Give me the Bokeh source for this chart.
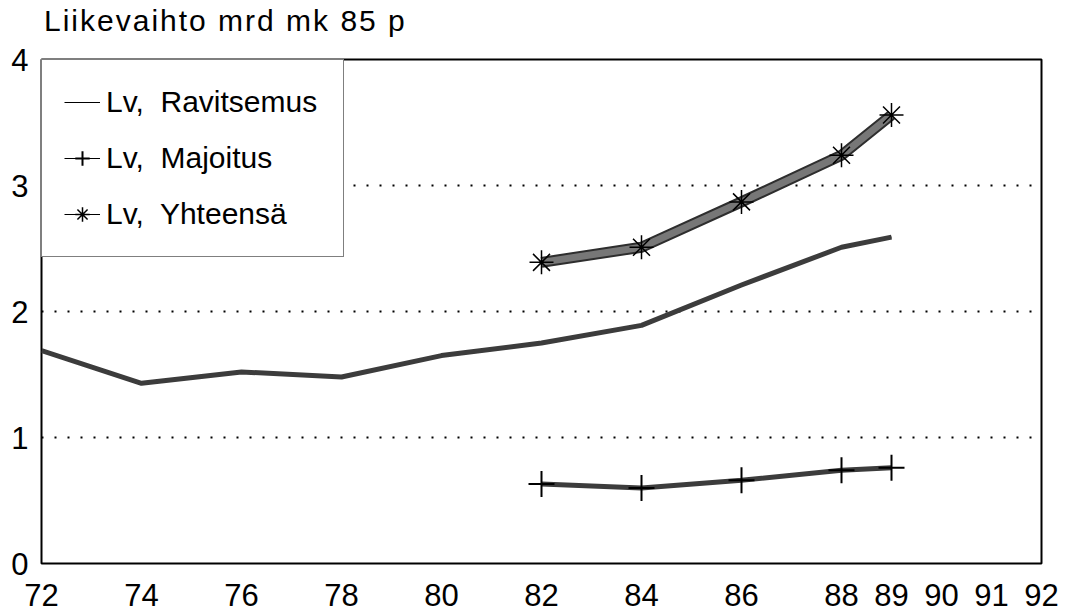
from bokeh.plotting import figure
from bokeh.models import Range1d, FixedTicker, Legend, LegendItem, Div
from bokeh.layouts import column
from bokeh.embed import file_html
from bokeh.resources import INLINE

# ---- data ----
rav_years = [72, 74, 76, 78, 80, 82, 84, 86, 88, 89]
ravitsemus = [1.69, 1.43, 1.52, 1.48, 1.65, 1.75, 1.89, 2.21, 2.51, 2.59]

maj_years = [82, 84, 86, 88, 89]
majoitus = [0.63, 0.60, 0.66, 0.74, 0.76]

yht_years = [82, 84, 86, 88, 89]
yhteensa = [2.39, 2.51, 2.87, 3.24, 3.56]

x_ticks = [72, 74, 76, 78, 80, 82, 84, 86, 88, 89, 90, 91, 92]
y_ticks = [0, 1, 2, 3, 4]
grid_levels = [1, 2, 3]

title_text = "Liikevaihto mrd mk 85 p"
labels = ["Lv,  Ravitsemus", "Lv,  Majoitus", "Lv,  Yhteensä"]

FONT = "Liberation Sans"

# title block above the plot
title_div = Div(
    text=('<div style="font-family: \'Liberation Sans\', Arial, sans-serif; '
          'font-size: 30px; line-height: 38px; padding-top: 2px; padding-left: 44px; '
          'letter-spacing: 2px; color: black; '
          'white-space: nowrap;">' + title_text + '</div>'),
    width=1066, height=40, margin=(0, 0, 0, 0))

p = figure(width=1066, height=572, output_backend="svg", toolbar_location=None,
           x_range=Range1d(72, 92), y_range=Range1d(0, 4),
           min_border_left=41, min_border_right=25, min_border_top=19,
           min_border_bottom=49, margin=(0, 0, 0, 0))

p.background_fill_color = "white"
p.border_fill_color = "white"
p.outline_line_color = "black"
p.outline_line_width = 2

# axes
for ax in (p.xaxis[0], p.yaxis[0]):
    ax.axis_line_color = None
    ax.major_tick_line_color = None
    ax.minor_tick_line_color = None
    ax.major_tick_out = 0
    ax.major_tick_in = 0
    ax.minor_tick_out = 0
    ax.minor_tick_in = 0
    ax.major_label_text_font = FONT
    ax.major_label_text_font_size = "31px"
    ax.major_label_text_color = "black"

p.xaxis[0].ticker = FixedTicker(ticks=x_ticks)
p.xaxis[0].major_label_standoff = 20
p.xaxis[0].major_label_text_line_height = 0.7
p.yaxis[0].ticker = FixedTicker(ticks=y_ticks)
p.yaxis[0].major_label_standoff = 13

# grid
p.xgrid.grid_line_color = None
p.ygrid.ticker = FixedTicker(ticks=grid_levels)
p.ygrid.grid_line_color = "black"
p.ygrid.grid_line_width = 2
p.ygrid.grid_line_dash = "2 11"

# thin legend lines (hidden under the thick lines)
leg_rav = p.line(rav_years, ravitsemus, line_color="black", line_width=1)
leg_maj = p.line(maj_years, majoitus, line_color="black", line_width=1)
leg_yht = p.line(yht_years, yhteensa, line_color="black", line_width=1)

# data lines
p.line(rav_years, ravitsemus, line_color="#3c3c3c", line_width=5, line_join="round")
p.line(maj_years, majoitus, line_color="#3c3c3c", line_width=5, line_join="round")
p.line(yht_years, yhteensa, line_color="#2e2e2e", line_width=11, line_join="round")
p.line(yht_years, yhteensa, line_color="#777777", line_width=7, line_join="round")

maj_pts = p.scatter(maj_years, majoitus, marker="cross", size=26,
                    line_color="black", line_width=2)
yht_pts = p.scatter(yht_years, yhteensa, marker="asterisk", size=24,
                    line_color="black", line_width=1.5)

legend = Legend(items=[
    LegendItem(label=labels[0], renderers=[leg_rav]),
    LegendItem(label=labels[1], renderers=[leg_maj, maj_pts]),
    LegendItem(label=labels[2], renderers=[leg_yht, yht_pts]),
], location="top_left")
legend.margin = 0
legend.padding = 22
legend.spacing = 16
legend.glyph_width = 36
legend.glyph_height = 40
legend.label_standoff = 6
legend.label_width = 215
legend.label_text_font = FONT
legend.label_text_font_size = "30px"
legend.label_text_color = "black"
legend.border_line_color = "black"
legend.border_line_width = 1.5
legend.background_fill_color = "white"
legend.background_fill_alpha = 1.0
p.add_layout(legend, "center")

layout = column(title_div, p, spacing=0)

open("out.html", "w").write(file_html(layout, INLINE))
